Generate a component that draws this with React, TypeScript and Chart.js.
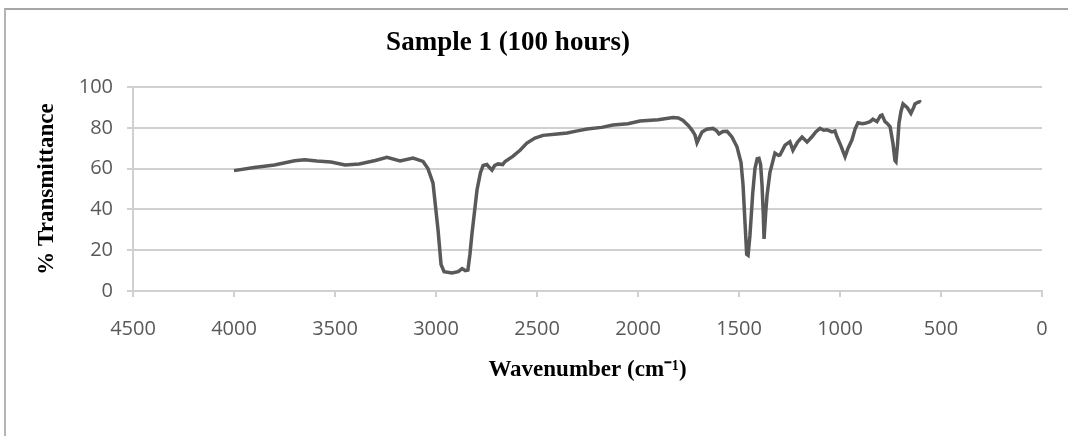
import React, { useEffect, useRef } from "react";
import { Chart, registerables } from "chart.js";

Chart.register(...registerables);

const chartTitle = "Sample 1 (100 hours)";
const xAxisTitle = "Wavenumber (cm\u207B\u00B9)";
const yAxisTitle = "% Transmittance";

const wavenumbers: number[] = [
  4000, 3900, 3800, 3700, 3650, 3590, 3520, 3450, 3380, 3300, 3243, 3178, 3114, 3064, 3040, 3015,
  2990, 2975, 2960, 2921, 2890, 2871, 2855, 2842, 2832, 2822, 2797, 2780, 2767, 2748, 2735, 2723,
  2710, 2693, 2670, 2658, 2620, 2584, 2550, 2510, 2470, 2400, 2351, 2300, 2252, 2180, 2124, 2050,
  1990, 1900, 1827, 1800, 1777, 1750, 1733, 1718, 1708, 1695, 1683, 1660, 1629, 1610, 1599, 1580,
  1559, 1535, 1510, 1490, 1480, 1470, 1462, 1455, 1446, 1432, 1421, 1410, 1401, 1393, 1386, 1380,
  1376, 1368, 1361, 1347, 1322, 1305, 1297, 1272, 1248, 1233, 1210, 1188, 1163, 1139, 1120, 1099,
  1080, 1064, 1040, 1025, 1015, 995, 975, 960, 941, 925, 911, 890, 876, 851, 837, 817,
  800, 792, 777, 765, 752, 738, 728, 723, 715, 708, 698, 688, 668, 649, 635, 629,
  615, 604, 600,
];

const transmittance: number[] = [
  59, 60.5, 61.8, 63.8, 64.3, 63.7, 63.2, 61.8, 62.3, 64.0, 65.5, 63.7, 65.2, 63.5, 60, 53,
  30, 13, 9.5, 8.8, 9.5, 11, 10, 10.3, 18, 28, 49.5, 58, 61.5, 62, 60.5, 59.3,
  61.5, 62.3, 62, 63.5, 66, 69, 72.5, 75, 76.3, 77, 77.5, 78.5, 79.4, 80.2, 81.4, 82,
  83.3, 84, 85, 84.8, 83.6, 81, 78.9, 76.5, 72.7, 75.5, 78, 79.3, 79.7, 78.5, 77, 78.2,
  78.3, 75.5, 70.7, 63, 52, 33, 18, 17.5, 27, 48, 60, 64.8, 65, 62, 52, 38,
  25.5, 38, 47, 58, 67.6, 66.5, 66.7, 71.5, 73.2, 69, 73, 75.5, 73, 75.6, 78, 79.7,
  78.8, 79, 78, 78.5, 75.6, 71, 65.8, 70, 74, 79.5, 82.5, 82, 82.2, 83, 84.2, 83,
  86, 86.3, 83, 82, 80.5, 72.5, 64, 63.4, 72, 82.2, 88, 91.7, 90, 87.1, 90, 91.7,
  92.5, 92.8, 92.5,
];

const xMin = 0;
const xMax = 4500;
const xStep = 500;
const yMin = 0;
const yMax = 100;
const yStep = 20;

const serif = "'Liberation Serif', 'Times New Roman', serif";

const titlePlugin = {
  id: "offsetTitle",
  afterDraw(chart: any) {
    const ctx = chart.ctx;
    ctx.save();
    ctx.font = `bold 27px ${serif}`;
    ctx.fillStyle = "#000";
    ctx.textAlign = "center";
    ctx.textBaseline = "middle";
    ctx.fillText(chartTitle, 508, 43);
    ctx.restore();
  },
};

export default function App() {
  const canvasRef = useRef<HTMLCanvasElement | null>(null);

  useEffect(() => {
    const canvas = canvasRef.current;
    if (!canvas) return;
    const points = wavenumbers.map((w, i) => ({ x: w, y: transmittance[i] }));
    const tickFont = { family: "'Open Sans', sans-serif", size: 20 };
    const chart = new Chart(canvas, {
      type: "line",
      data: {
        datasets: [
          {
            data: points,
            borderColor: "#595959",
            borderWidth: 3.5,
            pointRadius: 0,
            tension: 0,
            fill: false,
          },
        ],
      },
      options: {
        animation: false,
        responsive: false,
        maintainAspectRatio: false,
        parsing: false,
        layout: { padding: { left: 33, right: 26, top: 87, bottom: 52 } },
        plugins: {
          legend: { display: false },
          tooltip: { enabled: false },
          title: { display: false },
        },
        scales: {
          x: {
            type: "linear",
            reverse: true,
            min: xMin,
            max: xMax,
            afterFit: (scale: any) => {
              scale.height = 93;
            },
            ticks: {
              stepSize: xStep,
              color: "#595959",
              font: tickFont,
              padding: 20,
              maxRotation: 0,
              callback: (v: any) => String(v),
            },
            grid: {
              drawOnChartArea: false,
              drawTicks: true,
              tickLength: 6,
              color: "#d0d0d0",
              lineWidth: 2,
            },
            border: { display: true, color: "#d0d0d0", width: 2 },
            title: {
              display: true,
              text: xAxisTitle,
              color: "#000",
              font: { family: serif, size: 23, weight: "bold" },
              padding: { top: 0, bottom: 0 },
            },
          },
          y: {
            type: "linear",
            min: yMin,
            max: yMax,
            afterFit: (scale: any) => {
              scale.width = 100;
            },
            ticks: {
              stepSize: yStep,
              color: "#595959",
              font: tickFont,
              padding: 14,
            },
            grid: {
              drawTicks: true,
              tickLength: 6,
              color: "#d0d0d0",
              lineWidth: 2,
            },
            border: { display: true, color: "#d0d0d0", width: 2 },
            title: {
              display: true,
              text: yAxisTitle,
              color: "#000",
              font: { family: serif, size: 23, weight: "bold" },
              padding: { top: 0, bottom: 0 },
            },
          },
        },
      },
      plugins: [titlePlugin],
    } as any);
    return () => {
      chart.destroy();
    };
  }, []);

  return (
    <div style={{ position: "fixed", left: 0, top: 0, width: 1068, height: 436, background: "#fff" }}>
      <div
        style={{
          position: "absolute",
          left: 4,
          top: 8,
          right: 0,
          bottom: 0,
          borderTop: "2px solid #a6a6a6",
          borderLeft: "2px solid #b4b4b4",
        }}
      />
      <canvas
        ref={canvasRef}
        width={1068}
        height={436}
        style={{ position: "absolute", left: 0, top: 0, width: 1068, height: 436 }}
      />
    </div>
  );
}
